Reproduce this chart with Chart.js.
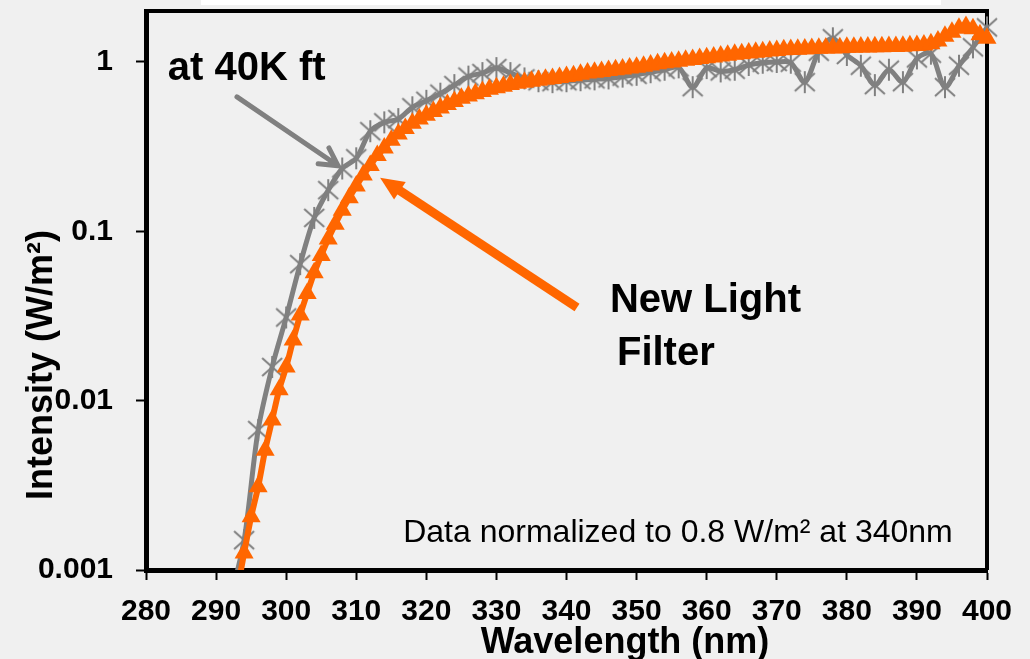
<!DOCTYPE html>
<html>
<head>
<meta charset="utf-8">
<script src="https://cdn.jsdelivr.net/npm/chart.js"></script>
<style>
  body { margin: 0; background: #f0f0f0; }
  #wrap { position: relative; width: 1030px; height: 659px; }
  #strip { position: absolute; left: 201px; top: 0; width: 740px; height: 5px; background: #fff; }
</style>
</head>
<body>
<div id="wrap">
  <canvas id="uvChart"></canvas>
  <div id="strip"></div>
</div>

<script>
// New Light Filter (orange triangles), 1 nm steps
const filterNm = [293, 294, 295, 296, 297, 298, 299, 300, 301, 302, 303, 304, 305, 306, 307, 308, 309, 310,
  311, 312, 313, 314, 315, 316, 317, 318, 319, 320, 321, 322, 323, 324, 325, 326, 327, 328, 329, 330,
  331, 332, 333, 334, 335, 336, 337, 338, 339, 340, 341, 342, 343, 344, 345, 346, 347, 348, 349, 350,
  351, 352, 353, 354, 355, 356, 357, 358, 359, 360, 361, 362, 363, 364, 365, 366, 367, 368, 369, 370,
  371, 372, 373, 374, 375, 376, 377, 378, 379, 380, 381, 382, 383, 384, 385, 386, 387, 388, 389, 390,
  391, 392, 393, 394, 395, 396, 397, 398, 399, 400];
const filterVals = [0.00075, 0.00126, 0.00206, 0.0031, 0.0051, 0.0077, 0.0116, 0.0158, 0.0228, 0.032,
  0.043, 0.057, 0.072, 0.09, 0.11, 0.133, 0.158, 0.185, 0.215, 0.245,
  0.28, 0.31, 0.345, 0.375, 0.405, 0.435, 0.46, 0.485, 0.51, 0.535,
  0.56, 0.585, 0.61, 0.63, 0.65, 0.67, 0.69, 0.705, 0.72, 0.735,
  0.75, 0.76, 0.77, 0.78, 0.79, 0.80, 0.81, 0.82, 0.83, 0.845,
  0.86, 0.87, 0.88, 0.89, 0.90, 0.91, 0.92, 0.93, 0.945, 0.96,
  0.975, 0.99, 1.0, 1.01, 1.025, 1.035, 1.05, 1.06, 1.07, 1.085,
  1.095, 1.11, 1.12, 1.13, 1.14, 1.15, 1.16, 1.17, 1.18, 1.185,
  1.19, 1.195, 1.2, 1.205, 1.21, 1.21, 1.215, 1.22, 1.22, 1.225,
  1.225, 1.23, 1.23, 1.235, 1.235, 1.24, 1.245, 1.25, 1.26, 1.28,
  1.33, 1.42, 1.5, 1.58, 1.62, 1.57, 1.45, 1.38];

// at 40K ft (grey asterisks), 2 nm steps
const altNm = [292, 294, 296, 298, 300, 302, 304, 306, 308, 310, 312, 314, 316, 318, 320, 322, 324, 326,
  328, 330, 332, 334, 336, 338, 340, 342, 344, 346, 348, 350, 352, 354, 356, 358, 360, 362, 364, 366,
  368, 370, 372, 374, 376, 378, 380, 382, 384, 386, 388, 390, 392, 394, 396, 398, 400];
const altVals = [0.00066, 0.0015, 0.0067, 0.0158, 0.031, 0.064, 0.12, 0.175, 0.235, 0.27,
  0.39, 0.44, 0.46, 0.54, 0.59, 0.65, 0.73, 0.82, 0.86, 0.92,
  0.86, 0.80, 0.77, 0.76, 0.77, 0.78, 0.79, 0.80, 0.82, 0.84,
  0.87, 0.90, 0.93, 0.71, 0.92, 0.88, 0.90, 0.96, 0.99, 1.0,
  0.99, 0.76, 1.15, 1.38, 1.10, 0.95, 0.73, 0.90, 0.76, 1.05,
  1.12, 0.71, 0.95, 1.22, 1.60];

const yTicks = [0.001, 0.01, 0.1, 1];

const FONT = '"Liberation Sans", Arial, sans-serif';
const ORANGE = '#ff6600';
const GREY = '#808080';

// Excel-like asterisk marker
function asterisk() {
  const c = document.createElement('canvas');
  c.width = 24; c.height = 24;
  const g = c.getContext('2d');
  g.strokeStyle = GREY;
  g.lineWidth = 2;
  g.beginPath();
  g.moveTo(2, 3); g.lineTo(22, 21);
  g.moveTo(22, 3); g.lineTo(2, 21);
  g.moveTo(12, 1); g.lineTo(12, 23);
  g.stroke();
  return c;
}

// notes in data units
const notes = {
  altLabel: { x: 283.1, y: 0.784, text: 'at 40K ft' },
  altArrow: { x0: 292.98, y0: 0.622, x1: 307.4, y1: 0.244 },
  filterArrow: { x0: 341.5, y0: 0.0355, x1: 313.4, y1: 0.2074 },
  filter1: { x: 346.2, y: 0.0332, text: 'New Light' },
  filter2: { x: 347.2, y: 0.0162, text: 'Filter' },
  norm: { x: 316.7, y: 0.00146, text: 'Data normalized to 0.8 W/m\u00b2 at 340nm' }
};

const frame = {
  id: 'frame',
  beforeDatasetsDraw(chart) {
    const { ctx, chartArea: a } = chart;
    ctx.save();
    ctx.strokeStyle = '#000';
    ctx.lineWidth = 4;
    ctx.beginPath();
    ctx.moveTo(a.left, a.top);
    ctx.lineTo(a.right, a.top);
    ctx.lineTo(a.right, a.bottom);
    ctx.stroke();
    ctx.restore();
  },
  afterDraw(chart) {
    const { ctx, scales: { x, y } } = chart;
    const px = v => x.getPixelForValue(v);
    const py = v => y.getPixelForValue(v);
    ctx.save();

    // axis titles
    ctx.fillStyle = '#000';
    ctx.font = 'bold 36px ' + FONT;
    ctx.textAlign = 'center';
    ctx.textBaseline = 'alphabetic';
    ctx.fillText('Wavelength (nm)', 625, 653);
    ctx.save();
    ctx.translate(52, 365);
    ctx.rotate(-Math.PI / 2);
    ctx.fillText('Intensity (W/m\u00b2)', 0, 0);
    ctx.restore();

    // grey arrow with open head
    const ga = notes.altArrow;
    let x0 = px(ga.x0), y0 = py(ga.y0), x1 = px(ga.x1), y1 = py(ga.y1);
    let ang = Math.atan2(y1 - y0, x1 - x0);
    ctx.strokeStyle = GREY;
    ctx.lineWidth = 5;
    ctx.lineCap = 'round';
    ctx.beginPath();
    ctx.moveTo(x0, y0); ctx.lineTo(x1, y1);
    ctx.moveTo(x1 - 20 * Math.cos(ang - 0.5), y1 - 20 * Math.sin(ang - 0.5));
    ctx.lineTo(x1, y1);
    ctx.lineTo(x1 - 20 * Math.cos(ang + 0.5), y1 - 20 * Math.sin(ang + 0.5));
    ctx.stroke();

    // orange arrow with filled head
    const fa = notes.filterArrow;
    x0 = px(fa.x0); y0 = py(fa.y0); x1 = px(fa.x1); y1 = py(fa.y1);
    ang = Math.atan2(y1 - y0, x1 - x0);
    ctx.strokeStyle = ORANGE;
    ctx.fillStyle = ORANGE;
    ctx.lineWidth = 9;
    ctx.lineCap = 'butt';
    ctx.beginPath();
    ctx.moveTo(x0, y0);
    ctx.lineTo(x1 - 18 * Math.cos(ang), y1 - 18 * Math.sin(ang));
    ctx.stroke();
    ctx.beginPath();
    ctx.moveTo(x1, y1);
    ctx.lineTo(x1 - 26 * Math.cos(ang - 0.42), y1 - 26 * Math.sin(ang - 0.42));
    ctx.lineTo(x1 - 26 * Math.cos(ang + 0.42), y1 - 26 * Math.sin(ang + 0.42));
    ctx.closePath();
    ctx.fill();

    // labels
    ctx.fillStyle = '#000';
    ctx.textAlign = 'left';
    ctx.font = 'bold 40px ' + FONT;
    [notes.altLabel, notes.filter1, notes.filter2].forEach(n => ctx.fillText(n.text, px(n.x), py(n.y)));
    ctx.font = '32px ' + FONT;
    ctx.fillText(notes.norm.text, px(notes.norm.x), py(notes.norm.y));
    ctx.restore();
  }
};

const tickFont = { family: FONT, size: 30, weight: 'bold' };

new Chart(document.getElementById('uvChart'), {
  type: 'line',
  data: {
    datasets: [
      {
        label: 'New Light Filter',
        data: filterNm.map((w, i) => ({ x: w, y: filterVals[i] })),
        borderColor: ORANGE,
        backgroundColor: ORANGE,
        borderWidth: 6,
        pointStyle: 'triangle',
        pointRadius: 11,
        pointBorderWidth: 0,
        tension: 0.3,
        clip: { left: 10, top: 20, right: 20, bottom: 0 },
        order: 0
      },
      {
        label: 'at 40K ft',
        data: altNm.map((w, i) => ({ x: w, y: altVals[i] })),
        borderColor: GREY,
        backgroundColor: GREY,
        borderWidth: 5,
        pointStyle: asterisk(),
        tension: 0.3,
        clip: { left: 10, top: 20, right: 20, bottom: 0 },
        order: 1
      }
    ]
  },
  options: {
    responsive: true,
    maintainAspectRatio: false,
    animation: false,
    layout: { padding: { top: 10, right: 43, left: 0, bottom: 0 } },
    plugins: { legend: { display: false }, tooltip: { enabled: false } },
    scales: {
      x: {
        type: 'linear',
        min: 280,
        max: 400,
        afterFit(s) { s.height = 89; s.paddingLeft = 0; s.paddingRight = 0; },
        ticks: { stepSize: 10, color: '#000', font: tickFont, padding: 14, maxRotation: 0, autoSkip: false },
        grid: { drawOnChartArea: false, drawTicks: true, tickLength: 10, tickColor: '#000', tickWidth: 2 },
        border: { display: true, color: '#000', width: 5 }
      },
      y: {
        type: 'logarithmic',
        min: 0.001,
        max: 2,
        afterFit(s) { s.width = 146; s.paddingTop = 0; s.paddingBottom = 0; },
        afterBuildTicks(s) { s.ticks = yTicks.map(v => ({ value: v })); },
        ticks: { color: '#000', font: tickFont, padding: 23, callback: v => String(v) },
        grid: { drawOnChartArea: false, drawTicks: true, tickLength: 10, tickColor: '#000', tickWidth: 2 },
        border: { display: true, color: '#000', width: 5 }
      }
    }
  },
  plugins: [frame]
});
</script>
</body>
</html>
